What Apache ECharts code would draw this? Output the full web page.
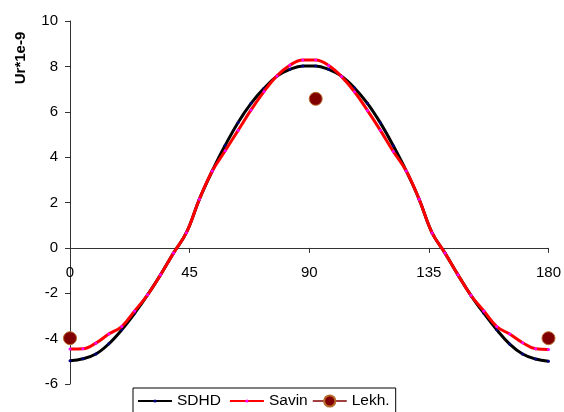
<!DOCTYPE html>
<html>
<head>
<meta charset="utf-8">
<script src="https://cdn.jsdelivr.net/npm/echarts@6/dist/echarts.min.js"></script>
<style>
html,body{margin:0;padding:0;background:#fff;}
#chart{width:564px;height:412px;}
</style>
</head>
<body>
<div id="chart"></div>
<script>
// Angles (degrees) of the computed points
const angles = [0, 4.86, 9.73, 14.59, 19.46, 24.32, 29.19, 34.05, 38.92, 43.78,
  48.65, 53.51, 58.38, 63.24, 68.11, 72.97, 77.84, 82.70, 87.57, 92.43,
  97.30, 102.16, 107.03, 111.89, 116.76, 121.62, 126.49, 131.35, 136.22, 141.08,
  145.95, 150.81, 155.68, 160.54, 165.41, 170.27, 175.14, 180];

const sdhd = [-4.98, -4.89, -4.68, -4.23, -3.61, -2.88, -2.07, -1.19, -0.23, 0.67,
  2.14, 3.39, 4.52, 5.53, 6.37, 7.03, 7.57, 7.87, 8.02, 8.02,
  7.87, 7.57, 7.05, 6.37, 5.51, 4.50, 3.39, 2.14, 0.66, -0.23,
  -1.19, -2.09, -2.88, -3.61, -4.24, -4.68, -4.90, -5.00];

const savin = [-4.46, -4.45, -4.20, -3.80, -3.47, -2.78, -2.07, -1.19, -0.23, 0.67,
  2.14, 3.39, 4.28, 5.18, 6.08, 6.89, 7.58, 8.05, 8.28, 8.28,
  8.04, 7.55, 6.88, 6.06, 5.18, 4.25, 3.39, 2.14, 0.66, -0.23,
  -1.19, -2.09, -2.78, -3.47, -3.80, -4.18, -4.45, -4.48];

const lekhAngles = [0, 92.43, 180];
const lekh = [-3.98, 6.57, -3.98];

const xTicks = [0, 45, 90, 135, 180];
const yTicks = [-6, -4, -2, 0, 2, 4, 6, 8, 10];

const FONT = "'Liberation Sans', Arial, sans-serif";
const pairs = (xs, ys) => xs.map((x, i) => [x, ys[i]]);

const W = 564, H = 412;
const GRID = {left: 70, right: 15, top: 21, bottom: 28};
const yMin = yTicks[0], yMax = yTicks[yTicks.length - 1];
// move the x axis (line, ticks and labels) up to y = 0
const plotH = H - GRID.top - GRID.bottom;
const xAxisOffset = -plotH * (0 - yMin) / (yMax - yMin);

const chart = echarts.init(document.getElementById('chart'), null, {renderer: 'canvas'});
chart.setOption({
  animation: false,
  backgroundColor: '#fff',
  textStyle: {fontFamily: FONT},
  grid: {left: GRID.left, right: GRID.right, top: GRID.top, bottom: GRID.bottom, containLabel: false},
  xAxis: {
    type: 'value',
    position: 'bottom',
    offset: xAxisOffset,
    min: xTicks[0], max: xTicks[xTicks.length - 1], interval: 45,
    axisLine: {show: true, onZero: false, lineStyle: {color: '#333', width: 1}},
    axisTick: {show: true, inside: false, length: 5, lineStyle: {color: '#333'}},
    axisLabel: {margin: 17, fontSize: 15, color: '#000', fontFamily: FONT},
    splitLine: {show: false}
  },
  yAxis: {
    type: 'value',
    min: yMin, max: yMax, interval: 2,
    axisLine: {show: true, onZero: false, lineStyle: {color: '#333', width: 1}},
    axisTick: {show: true, length: 5, lineStyle: {color: '#333'}},
    axisLabel: {margin: 12, fontSize: 15, color: '#000', fontFamily: FONT},
    splitLine: {show: false}
  },
  graphic: [{
    type: 'text',
    x: 21, y: 58,
    rotation: Math.PI / 2,
    style: {
      text: 'Ur*1e-9',
      font: "bold 15px 'Liberation Sans', Arial, sans-serif",
      fill: '#000',
      textAlign: 'center',
      textVerticalAlign: 'middle'
    }
  }],
  legend: [{
    data: ['SDHD', 'Savin'],
    left: 133, top: 388,
    orient: 'horizontal',
    itemWidth: 34, itemHeight: 4, itemGap: 8,
    padding: [5, 88, 6, 4],
    borderColor: '#000', borderWidth: 1,
    backgroundColor: '#fff',
    selectedMode: false,
    textStyle: {fontSize: 15.5, color: '#000', fontFamily: FONT}
  }, {
    data: [{name: 'Lekh.', lineStyle: {opacity: 1, width: 1.5, color: '#800000'}}],
    left: 312, top: 393,
    orient: 'horizontal',
    itemWidth: 34, itemHeight: 14,
    padding: 0,
    selectedMode: false,
    textStyle: {fontSize: 15.5, color: '#000', fontFamily: FONT}
  }],
  series: [{
    name: 'SDHD',
    type: 'line',
    data: pairs(angles, sdhd),
    smooth: 0.4,
    symbol: 'circle', symbolSize: 3,
    itemStyle: {color: '#000080'},
    lineStyle: {color: '#000', width: 3},
    z: 2
  }, {
    name: 'Savin',
    type: 'line',
    data: pairs(angles, savin),
    smooth: 0.4,
    symbol: 'circle', symbolSize: 3,
    itemStyle: {color: '#ff00ff'},
    lineStyle: {color: '#ff0000', width: 3},
    z: 3
  }, {
    name: 'Lekh.',
    type: 'line',
    data: pairs(lekhAngles, lekh),
    symbol: 'circle', symbolSize: 13,
    itemStyle: {color: '#800000', borderColor: '#b86a2a', borderWidth: 1},
    lineStyle: {opacity: 0, width: 0, color: '#800000'},
    z: 4
  }]
});
</script>
</body>
</html>
